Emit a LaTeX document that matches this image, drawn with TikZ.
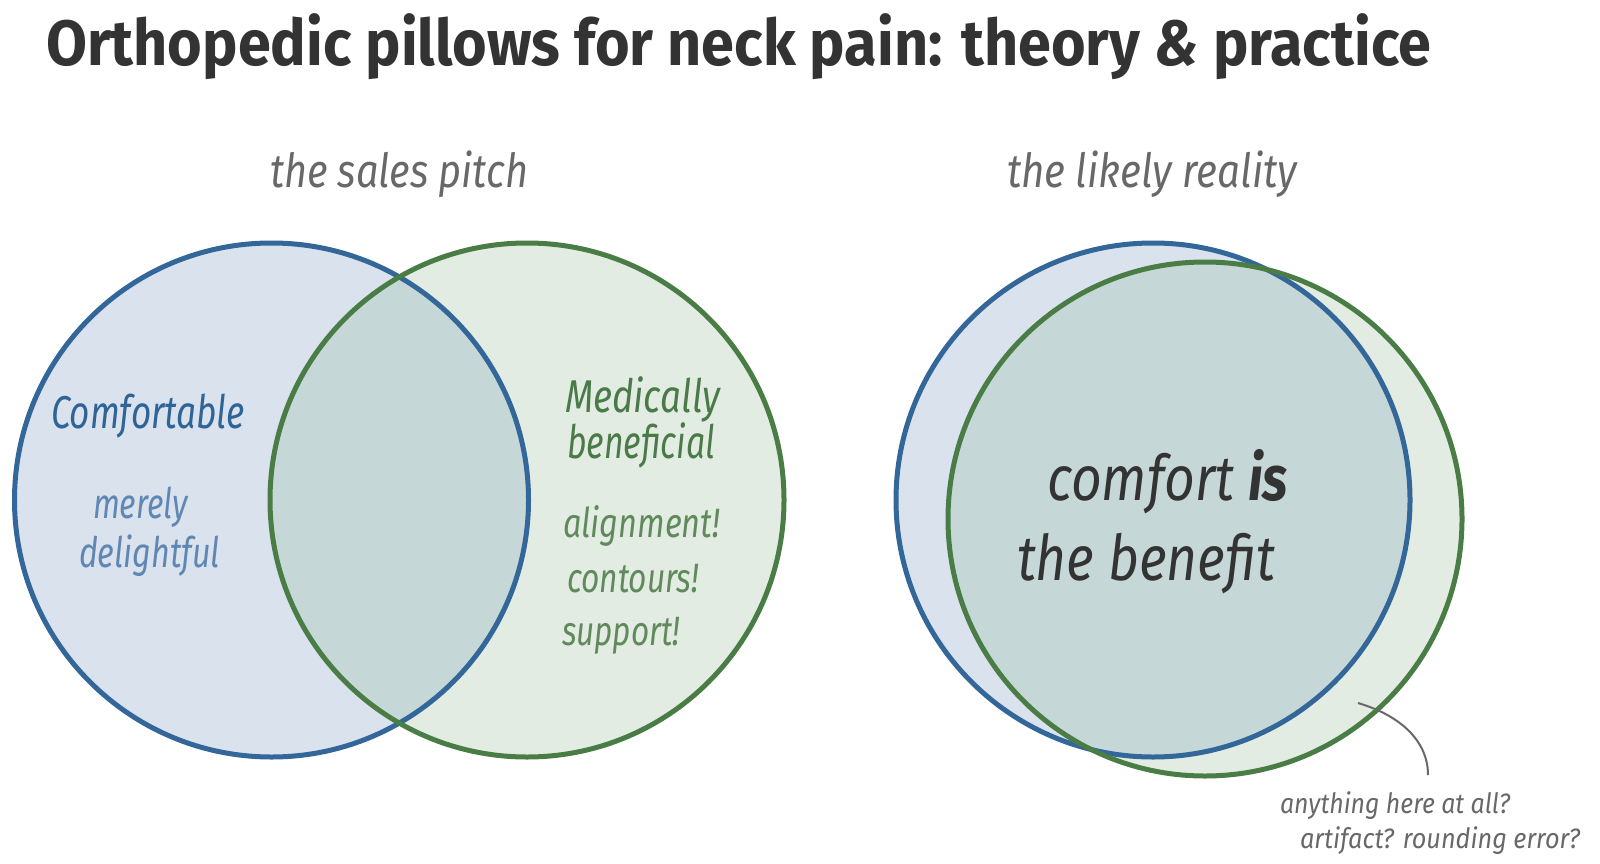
\documentclass[tikz,border=0pt]{standalone}
\usepackage{fontspec}
\usepackage{graphicx}
\setmainfont{Fira Sans}
\newfontfamily\titlef{Fira Sans}
\newfontfamily\itf{Fira Sans}
\newcommand{\fitw}[2]{\resizebox{#1}{\height}{#2}}
\definecolor{bluestroke}{HTML}{336699}
\definecolor{greenstroke}{HTML}{4A7D46}
\definecolor{bluefill}{HTML}{DAE2ED}
\definecolor{greenfill}{HTML}{E3ECE3}
\definecolor{overlapfill}{HTML}{C6D7D7}
\definecolor{darktext}{HTML}{333333}
\definecolor{graytext}{HTML}{686868}
\definecolor{bluetext}{HTML}{2F6497}
\definecolor{lightbluetext}{HTML}{5F87B3}
\definecolor{greentext}{HTML}{4A7A48}
\definecolor{lightgreentext}{HTML}{60895C}
\begin{document}
\begin{tikzpicture}[x=1pt,y=-1pt,
  txt/.style={anchor=base west,inner sep=0pt,outer sep=0pt},
  bluering/.style={draw=bluestroke,line width=5pt},
  greenring/.style={draw=greenstroke,line width=5pt},
  leader/.style={draw=graytext,line width=2pt}]
\useasboundingbox (0,0) rectangle (1600,864);
% centres
\coordinate (SB) at (271.5,500);
\coordinate (SG) at (527,500);
\coordinate (RB) at (1153,500);
\coordinate (RG) at (1205,519);
% sales pitch fills
\fill[bluefill] (SB) circle[radius=257pt];
\fill[greenfill] (SG) circle[radius=257pt];
\begin{scope}
\clip (SB) circle[radius=257pt];
\fill[overlapfill] (SG) circle[radius=257pt];
\end{scope}
\draw[bluering] (SB) circle[radius=257pt];
\draw[greenring] (SG) circle[radius=257pt];
% likely reality fills
\fill[bluefill] (RB) circle[radius=257pt];
\fill[greenfill] (RG) circle[radius=257pt];
\begin{scope}
\clip (RB) circle[radius=257pt];
\fill[overlapfill] (RG) circle[radius=257pt];
\end{scope}
\draw[bluering] (RB) circle[radius=257pt];
\draw[greenring] (RG) circle[radius=257pt];
% title
\node[txt,text=darktext,font=\titlef\bfseries\fontsize{64}{70}\selectfont] (title) at (46,66)
  {\fitw{1385pt}{Orthopedic pillows for neck pain: theory \textit{\&} practice}};
% subtitles
\node[txt,text=graytext,font=\itf\itshape\fontsize{47}{50}\selectfont] (sub1) at (270,187)
  {\fitw{258pt}{the sales pitch}};
\node[txt,text=graytext,font=\itf\itshape\fontsize{47}{50}\selectfont] (sub2) at (1007,187)
  {\fitw{290pt}{the likely reality}};
% left circle texts
\node[txt,text=bluetext,font=\itf\itshape\fontsize{46}{50}\selectfont] (comf) at (51,428)
  {\fitw{194pt}{Comfortable}};
\node[txt,text=lightbluetext,font=\itf\itshape\fontsize{42}{46}\selectfont] (merely) at (93,518)
  {\fitw{95pt}{merely}};
\node[txt,text=lightbluetext,font=\itf\itshape\fontsize{42}{46}\selectfont] (delight) at (79,567)
  {\fitw{141pt}{delightful}};
% right circle texts
\node[txt,text=greentext,font=\itf\itshape\fontsize{46}{50}\selectfont] (medic) at (565,412)
  {\fitw{155pt}{Medically}};
\node[txt,text=greentext,font=\itf\itshape\fontsize{46}{50}\selectfont] (benef) at (567,458)
  {\fitw{148pt}{beneficial}};
\node[txt,text=lightgreentext,font=\itf\itshape\fontsize{41}{44}\selectfont] (align) at (563,537)
  {\fitw{157pt}{alignment!}};
\node[txt,text=lightgreentext,font=\itf\itshape\fontsize{41}{44}\selectfont] (contour) at (567,592)
  {\fitw{132pt}{contours!}};
\node[txt,text=lightgreentext,font=\itf\itshape\fontsize{41}{44}\selectfont] (support) at (562,645)
  {\fitw{118pt}{support!}};
% reality texts
\node[txt,text=darktext,font=\itf\itshape\fontsize{63}{66}\selectfont] (comfis) at (1047,500)
  {\fitw{241pt}{comfort \textbf{is}}};
\node[txt,text=darktext,font=\itf\itshape\fontsize{63}{66}\selectfont] (thebenefit) at (1017,580)
  {\fitw{258pt}{the benefit}};
% annotation
\node[txt,text=graytext,font=\itf\itshape\fontsize{28}{30}\selectfont] (note1) at (1280,813)
  {\fitw{230pt}{anything here at all?}};
\node[txt,text=graytext,font=\itf\itshape\fontsize{28}{30}\selectfont] (note2) at (1300,848)
  {\fitw{280pt}{artifact? rounding error?}};
\coordinate (leadA) at (1358,703);
\coordinate (leadB) at (1428,775);
\draw[leader] (leadA) .. controls (1402,716) and (1428,742) .. (leadB);
\end{tikzpicture}
\end{document}
